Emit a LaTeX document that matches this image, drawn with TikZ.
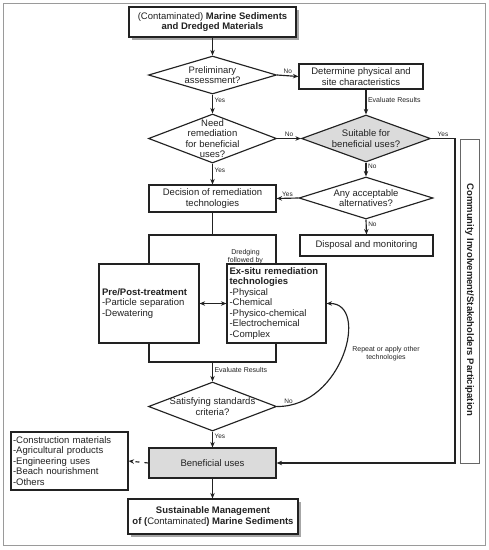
\documentclass[tikz,border=0pt]{standalone}
\usepackage{fontspec}
\setmainfont{Liberation Sans}
\usetikzlibrary{shapes.geometric,arrows.meta,shadows}
\definecolor{linec}{HTML}{222222}
\definecolor{framec}{HTML}{9A9A9A}
\definecolor{commc}{HTML}{666666}
\definecolor{grayfill}{HTML}{DBDBDB}
\newcommand{\mainf}{\fontsize{9.5}{10.5}\selectfont}
\newcommand{\smallf}{\fontsize{7}{8}\selectfont}
\newcommand{\labf}{\fontsize{6.5}{7.5}\selectfont}
\begin{document}
\begin{tikzpicture}[x=1pt,y=-1pt,
  box/.style={draw=linec, line width=1.15pt, fill=white, inner sep=0pt, font=\mainf, align=center, text=linec},
  dia/.style={draw=linec, diamond, line width=1.15pt, fill=white, inner sep=0pt},
  dtxt/.style={font=\mainf, align=center, inner sep=0pt, text=linec},
  lab/.style={font=\labf, inner sep=1.5pt, text=linec},
  slab/.style={font=\smallf, inner sep=1.5pt, align=center, text=linec},
  arr/.style={-{Stealth[length=5.5pt,width=4.5pt]}, line width=1.15pt, draw=linec},
  conn/.style={line width=1.15pt, draw=linec},
  shad/.style={drop shadow={shadow xshift=2.5pt, shadow yshift=-2.5pt, fill=black!35, opacity=1}}
]
\useasboundingbox (0,0) rectangle (489,550);
\node[draw=framec, line width=0.9pt, minimum width=482pt, minimum height=542pt, inner sep=0pt] (frame) at (244,274) {};

% top
\node[box, shad, minimum width=167pt, minimum height=30pt] (top) at (212.5,22) {(Contaminated) \textbf{Marine Sediments}\\\textbf{and Dredged Materials}};

% decisions
\node[dia, minimum width=128pt, minimum height=38pt] (d1) at (212.5,75) {};
\node[dtxt] (d1t) at (d1) {Preliminary\\assessment?};
\node[box, minimum width=124pt, minimum height=25pt] (det) at (361,76.5) {Determine physical and\\site characteristics};

\node[dia, minimum width=128pt, minimum height=49pt] (d2) at (212.5,138.5) {};
\node[dtxt] (d2t) at (d2) {Need\\remediation\\for beneficial\\uses?};

\node[dia, fill=grayfill, minimum width=129pt, minimum height=47pt] (d3) at (366,138.5) {};
\node[dtxt] (d3t) at (d3) {Suitable for\\beneficial uses?};

\node[dia, minimum width=134pt, minimum height=42pt] (d4) at (366,198) {};
\node[dtxt] (d4t) at (d4) {Any acceptable\\alternatives?};

\node[box, minimum width=127pt, minimum height=27pt] (dec) at (212.5,198.5) {Decision of remediation\\technologies};
\node[box, minimum width=133pt, minimum height=21pt] (disp) at (366.5,245.5) {Disposal and monitoring};

% container and treatment boxes
\node[box, minimum width=127pt, minimum height=127pt] (cont) at (212.5,298.5) {};
\node[box, minimum width=100pt, minimum height=79pt, text width=94pt, inner sep=3pt, align=left] (pre) at (149,303.5) {\textbf{Pre/Post-treatment}\\-Particle separation\\-Dewatering};
\node[box, minimum width=99pt, minimum height=79pt, text width=94pt, inner sep=2.5pt, align=left] (ex) at (276.5,303.5) {\textbf{Ex-situ remediation}\\\textbf{technologies}\\-Physical\\-Chemical\\-Physico-chemical\\-Electrochemical\\-Complex};
\node[slab, font=\fontsize{7}{7.5}\selectfont] (dredg) at (245.5,256.5) {Dredging\\followed by};

\node[dia, minimum width=128pt, minimum height=49pt] (d5) at (212.5,406.5) {};
\node[dtxt] (d5t) at (d5) {Satisfying standards\\criteria?};

\node[box, fill=grayfill, minimum width=127pt, minimum height=30pt] (ben) at (212.5,463) {Beneficial uses};
\node[box, minimum width=117pt, minimum height=58pt, text width=113pt, inner sep=2pt, align=left] (list) at (69.5,461) {-Construction materials\\-Agricultural products\\-Engineering uses\\-Beach nourishment\\-Others};
\node[box, shad, minimum width=170pt, minimum height=35pt] (bot) at (213,516.5) {\textbf{Sustainable Management}\\\textbf{of (}Contaminated\textbf{) Marine Sediments}};

\node[draw=commc, line width=0.9pt, minimum width=19pt, minimum height=324pt, inner sep=0pt] (comm) at (469.5,301) {};
\node[font=\mainf\bfseries, rotate=-90, text=linec, inner sep=0pt] (commt) at (469.5,300) {Community Involvement/Stakeholders Participation};

\node[slab] (rep) at (386,353.5) {Repeat or apply other\\technologies};

% connectors
\draw[arr] (top.south) -- (d1.north);
\draw[arr] (d1.east) -- node[lab, above]{No} (det.west);
\draw[arr] (d1.south) -- node[lab, right, pos=0.3]{Yes} (d2.north);
\draw[arr] (det.south -| d3.north) -- node[slab, right, pos=0.4]{Evaluate Results} (d3.north);
\draw[arr] (d2.east) -- node[lab, above]{No} (d3.west);
\coordinate (cr) at (455,138.5);
\draw[arr] (d3.east) -- node[lab, above]{Yes} (cr) |- (ben.east);
\draw[arr] (d2.south) -- node[lab, right, pos=0.3]{Yes} (dec.north);
\draw[arr] (d3.south) -- node[lab, right, pos=0.3]{No} (d4.north);
\draw[arr] (d4.west) -- node[lab, above]{Yes} (dec.east);
\draw[arr] (d4.south) -- node[lab, right, pos=0.35]{No} (disp.north);
\draw[conn] (dec.south) -- (cont.north);
\draw[{Stealth[length=5.5pt,width=4.5pt]}-{Stealth[length=5.5pt,width=4.5pt]}, line width=1.15pt, draw=linec] (pre.east) -- (ex.west);
\draw[arr] (cont.south) -- node[slab, right, pos=0.4]{Evaluate Results} (d5.north);
\draw[arr] (d5.east) .. controls (343,407) and (370,303) .. node[lab, above, pos=0.06]{No} (ex.east);
\draw[arr] (d5.south) -- node[lab, right, pos=0.3]{Yes} (ben.north);
\draw[arr, dash pattern=on 4pt off 5pt] (ben.west) -- (list.east);
\draw[arr] (ben.south) -- (ben.south |- bot.north);
\end{tikzpicture}
\end{document}
